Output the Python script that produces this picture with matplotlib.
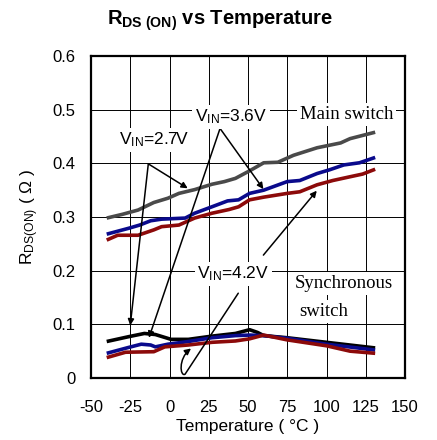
import matplotlib
matplotlib.use("Agg")
import matplotlib.pyplot as plt
from matplotlib.path import Path
from matplotlib.patches import FancyArrowPatch

# ---------------- data ----------------
temp_main_27 = [-40, -30, -20, -10, -1, 6, 16, 27, 35, 42, 51, 60, 69, 79, 94, 109, 115, 123, 131]
rds_main_27 = [0.298, 0.305, 0.313, 0.327, 0.335, 0.344, 0.351, 0.361, 0.366, 0.372, 0.386, 0.401,
               0.402, 0.415, 0.429, 0.438, 0.446, 0.452, 0.458]

temp_main_36 = [-40, -26, -19, -12, -5, 10, 16, 27, 37, 44, 51, 60, 75, 83, 94, 102, 111, 121, 131]
rds_main_36 = [0.268, 0.279, 0.285, 0.293, 0.296, 0.298, 0.307, 0.319, 0.330, 0.332, 0.344, 0.350,
               0.366, 0.368, 0.381, 0.388, 0.397, 0.401, 0.411]

temp_main_42 = [-40, -33, -20, -10, -5, 6, 16, 27, 38, 44, 51, 60, 75, 83, 94, 104, 115, 123, 131]
rds_main_42 = [0.257, 0.266, 0.266, 0.276, 0.282, 0.285, 0.298, 0.307, 0.314, 0.319, 0.332, 0.337,
               0.344, 0.347, 0.360, 0.368, 0.375, 0.380, 0.389]

temp_sync_27 = [-40, -26, -16, -9, 1, 12, 27, 42, 51, 56, 60, 75, 100, 131]
rds_sync_27 = [0.068, 0.077, 0.083, 0.081, 0.072, 0.072, 0.078, 0.083, 0.090, 0.085, 0.079, 0.075,
               0.0665, 0.056]

temp_sync_36 = [-40, -26, -18, -12, -9, -1, 12, 27, 42, 51, 60, 75, 100, 131]
rds_sync_36 = [0.046, 0.057, 0.063, 0.0615, 0.058, 0.063, 0.068, 0.075, 0.079, 0.080, 0.079, 0.074,
               0.063, 0.052]

temp_sync_42 = [-40, -28, -10, -3, 12, 27, 42, 51, 60, 75, 100, 115, 131]
rds_sync_42 = [0.038, 0.048, 0.049, 0.058, 0.0615, 0.0665, 0.069, 0.073, 0.080, 0.071, 0.060,
               0.050, 0.046]

x_ticks = [-50, -25, 0, 25, 50, 75, 100, 125, 150]
y_ticks = [0, 0.1, 0.2, 0.3, 0.4, 0.5, 0.6]
y_tick_labels = ["0", "0.1", "0.2", "0.3", "0.4", "0.5", "0.6"]

# ---------------- style ----------------
plt.rcParams["font.family"] = ["Liberation Sans", "DejaVu Sans"]
plt.rcParams["mathtext.fontset"] = "custom"
plt.rcParams["mathtext.rm"] = "Liberation Sans"
plt.rcParams["mathtext.it"] = "Liberation Sans:italic"
plt.rcParams["mathtext.bf"] = "Liberation Sans:bold"
plt.rcParams["axes.unicode_minus"] = False

GRAY = "#4a4a4a"
BLUE = "#0a0a8c"
RED = "#8c0a0a"
BLACK = "#000000"

fig = plt.figure(figsize=(4.37, 4.40), dpi=100)
ax = fig.add_axes([91 / 437, 1 - 378 / 440, 314 / 437, 322 / 440])

lw = 2.6
kw = dict(lw=lw, solid_joinstyle="round", solid_capstyle="butt", zorder=2)
ax.plot(temp_main_27, rds_main_27, color=GRAY, **kw)
ax.plot(temp_main_36, rds_main_36, color=BLUE, **kw)
ax.plot(temp_main_42, rds_main_42, color=RED, **kw)
ax.plot(temp_sync_27, rds_sync_27, color=BLACK, **kw)
ax.plot(temp_sync_36, rds_sync_36, color=BLUE, **kw)
ax.plot(temp_sync_42, rds_sync_42, color=RED, **kw)

ax.set_xlim(-50, 150)
ax.set_ylim(0, 0.6)
ax.set_xticks(x_ticks)
ax.set_yticks(y_ticks)
ax.set_yticklabels(y_tick_labels)
ax.tick_params(axis="both", length=0, labelsize=12)
ax.tick_params(axis="x", pad=16)
ax.tick_params(axis="y", pad=11)
ax.set_axisbelow(True)
ax.grid(True, color="black", lw=0.7)
for s in ax.spines.values():
    s.set_linewidth(1.6)

ax.set_xlabel("Temperature ( °C )", fontsize=12.5, labelpad=3)
ax.set_ylabel(r"R$_{\mathrm{DS(ON)}}$ ( Ω )", fontsize=12.5, labelpad=8)
fig.text(220 / 437, 1 - 25 / 440, r"$\mathbf{R_{DS\ (ON)}}$ vs Temperature", fontsize=14.5,
         fontweight="bold", ha="center", va="baseline")

# ---------------- annotations ----------------
box = dict(boxstyle="square,pad=0.15", fc="white", ec="none")
ax.text(-9.9, 0.444, r"V$_{\mathrm{IN}}$=2.7V", fontsize=12.5, ha="center", va="center", bbox=box, zorder=4)
ax.text(39.1, 0.487, r"V$_{\mathrm{IN}}$=3.6V", fontsize=12.5, ha="center", va="center", bbox=box, zorder=4)
ax.text(40.6, 0.194, r"V$_{\mathrm{IN}}$=4.2V", fontsize=12.5, ha="center", va="center", bbox=box, zorder=4)
ax.text(112.8, 0.491, "Main switch", fontsize=13.5, family=["Liberation Serif"], ha="center", va="center",
        bbox=box, zorder=4)
ax.text(111.2, 0.176, "Synchronous", fontsize=13.5, family=["Liberation Serif"], ha="center", va="center",
        bbox=box, zorder=4)
ax.text(98.0, 0.124, "switch", fontsize=13.5, family=["Liberation Serif"], ha="center", va="center",
        bbox=box, zorder=4)

arrow = dict(arrowstyle="-|>", color="black", lw=1.1, mutation_scale=9, shrinkA=0, shrinkB=0)
# V_IN = 2.7 V
ax.annotate("", xy=(11.6, 0.3535), xytext=(-13.5, 0.399), arrowprops=arrow, zorder=3)
ax.annotate("", xy=(-25.0, 0.098), xytext=(-13.5, 0.399), arrowprops=arrow, zorder=3)
# V_IN = 3.6 V
ax.annotate("", xy=(59.8, 0.352), xytext=(32.2, 0.465), arrowprops=arrow, zorder=3)
ax.annotate("", xy=(-13.1, 0.075), xytext=(32.2, 0.465), arrowprops=arrow, zorder=3)
# V_IN = 4.2 V
ax.annotate("", xy=(93.8, 0.349), xytext=(59.8, 0.229), arrowprops=arrow, zorder=3)
hook = Path([(43.8, 0.158), (9.9, 0.007), (6.7, 0.002), (5.5, 0.036), (13.7, 0.055)],
            [Path.MOVETO, Path.LINETO, Path.CURVE4, Path.CURVE4, Path.CURVE4])
ax.add_patch(FancyArrowPatch(path=hook, arrowstyle="-|>", color="black", lw=1.1,
                             mutation_scale=9, zorder=3, transform=ax.transData))

fig.savefig("out.png", dpi=100)
